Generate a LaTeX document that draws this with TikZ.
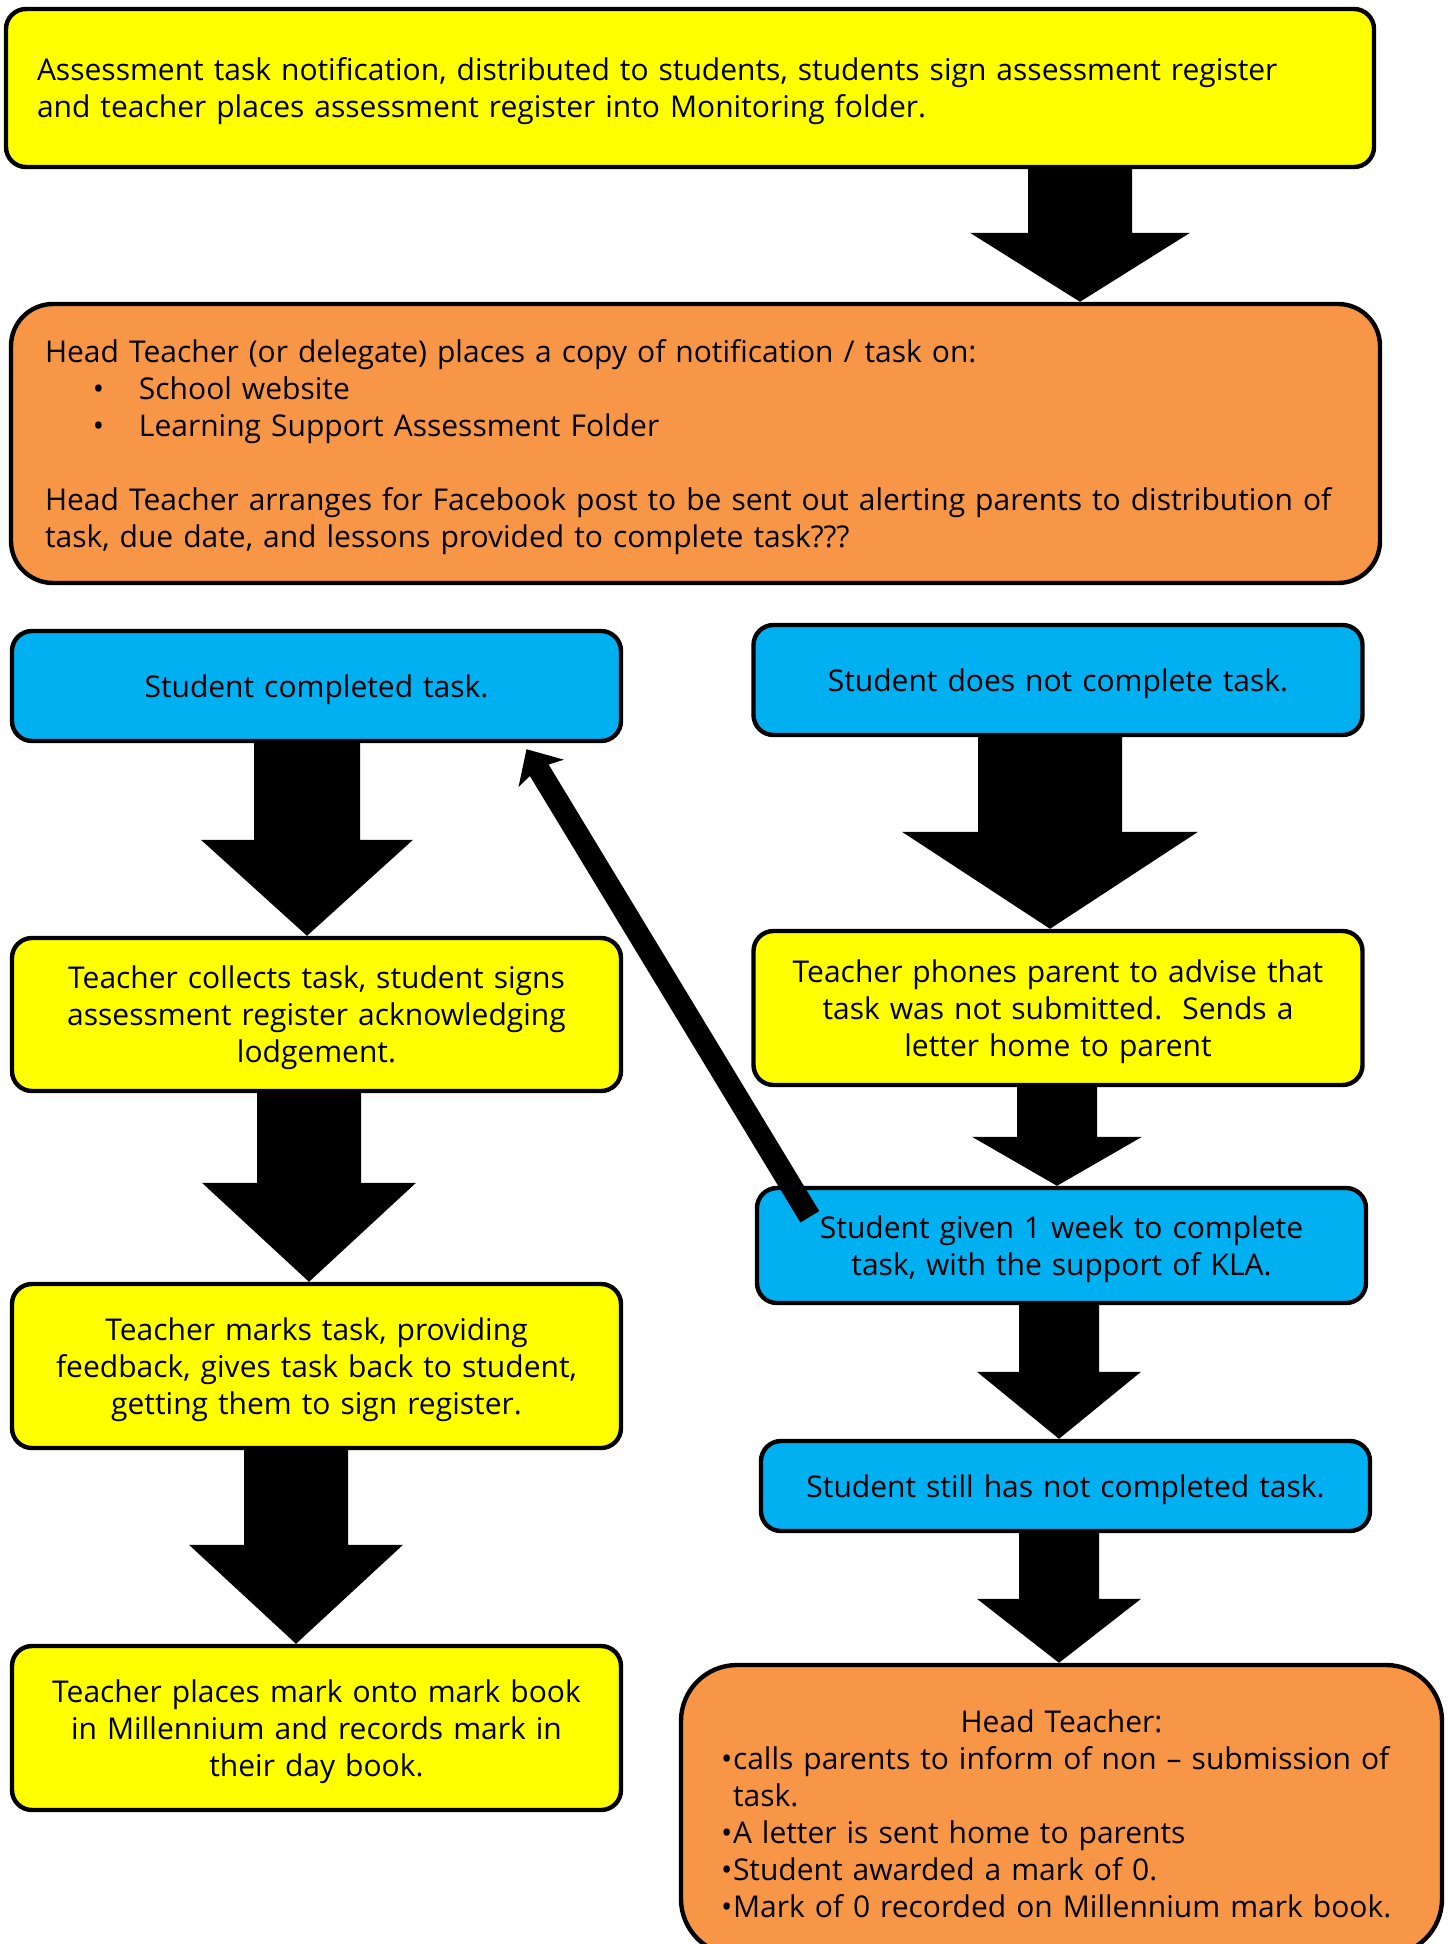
\documentclass[tikz,border=0pt]{standalone}
\usepackage{fontspec}
\setmainfont{Open Sans}
\usetikzlibrary{calc,arrows.meta}
\definecolor{taskyellow}{HTML}{FFFF00}
\definecolor{taskorange}{HTML}{F79646}
\definecolor{taskblue}{HTML}{00B0F0}
\newcommand{\stagefont}{\fontsize{15pt}{18.5pt}\selectfont\setlength{\lineskiplimit}{-20pt}}
\tikzset{
  stage/.style={draw=black, line width=2.2pt, rounded corners=10pt, inner ysep=0pt,
    font=\stagefont, execute at begin node={\rule{0pt}{15pt}}},
  yellowstage/.style={stage, fill=taskyellow},
  orangestage/.style={stage, fill=taskorange},
  bluestage/.style={stage, fill=taskblue},
  midtext/.style={align=center, text width=290pt, inner xsep=7pt, minimum width=304.5pt}
}
\newcommand{\pt}{\makebox[23pt][l]{\textbullet}}
\newcommand{\hb}{\makebox[6pt][l]{\textbullet}}
\begin{document}
\begin{tikzpicture}[x=0.5pt, y=-0.5pt]
  \useasboundingbox (0,0) rectangle (1448,1944);
  \clip (0,0) rectangle (1448,1944);
  \node[yellowstage, align=left, text width=653pt, inner xsep=15.5pt, minimum height=79pt]
    (notice) at (690,88)
    {Assessment task notification, distributed to students, students sign assessment register\\
     and teacher places assessment register into Monitoring folder.};
  \node[orangestage, rounded corners=21pt, align=left, text width=650.5pt, inner xsep=17pt, minimum height=139.5pt]
    (headpost) at (695.5,443.5)
    {Head Teacher (or delegate) places a copy of notification / task on:\\
     \hspace*{24pt}\pt School website\\
     \hspace*{24pt}\pt Learning Support Assessment Folder\\[18.5pt]
     Head Teacher arranges for Facebook post to be sent out alerting parents to distribution of\\
     task, due date, and lessons provided to complete task???};
  \node[bluestage, midtext, minimum height=55pt] (done) at (316.5,686) {Student completed task.};
  \node[bluestage, midtext, minimum height=55pt] (notdone) at (1058,680) {Student does not complete task.};
  \node[yellowstage, midtext, minimum height=76.5pt] (collect) at (316.5,1014.5)
    {Teacher collects task, student signs\\ assessment register acknowledging\\ lodgement.};
  \node[yellowstage, midtext, minimum height=77pt] (phone) at (1058,1008)
    {Teacher phones parent to advise that\\ task was not submitted.\ \ Sends a\\ letter home to parent};
  \node[yellowstage, midtext, minimum height=82pt] (marks) at (316.5,1366)
    {Teacher marks task, providing\\ feedback, gives task back to student,\\ getting them to sign register.};
  \node[bluestage, midtext, minimum height=57.5pt] (oneweek) at (1061.5,1245.5)
    {Student given 1 week to complete\\ task, with the support of KLA.};
  \node[yellowstage, midtext, minimum height=82pt] (recordmark) at (316.5,1728)
    {Teacher places mark onto mark book\\ in Millennium and records mark in\\ their day book.};
  \node[bluestage, midtext, minimum height=45pt] (stillnot) at (1065.5,1486)
    {Student still has not completed task.};
  \node[orangestage, rounded corners=28pt, align=left, text width=340.5pt, inner xsep=20pt, minimum height=145pt]
    (headcall) at (1061.5,1810)
    {{\centering Head Teacher:\par}
     \hb calls parents to inform of non – submission of\\
     \hspace*{6pt}task.\\
     \hb A letter is sent home to parents\\
     \hb Student awarded a mark of 0.\\
     \hb Mark of 0 recorded on Millennium mark book.};
  \foreach \x/\a/\b/\w/\h/\l in {1080/notice/headpost/52/110/69, 307/done/collect/53/106/96,
      309/collect/marks/52/107/99, 296/marks/recordmark/52/107/99, 1050/notdone/phone/72/148/97,
      1057/phone/oneweek/40/85/49, 1059/oneweek/stillnot/40/82/67, 1059/stillnot/headcall/40/82/64}
  {
    \path (\x,0 |- \a.south) coordinate (s) (\x,0 |- \b.north) coordinate (e);
    \fill ($(s)+(-\w,0)$) -- ($(e)+(-\w,-\l)$) -- ($(e)+(-\h,-\l)$) -- (e)
      -- ($(e)+(\h,-\l)$) -- ($(e)+(\w,-\l)$) -- ($(s)+(\w,0)$) -- cycle;
  }
  \draw[line width=11pt, -{Stealth[length=14pt, width=26pt, inset=3pt]}]
    ($(oneweek.north west)+(55,31)$) -- ($(done.south)+(210,6)$);
\end{tikzpicture}
\end{document}
